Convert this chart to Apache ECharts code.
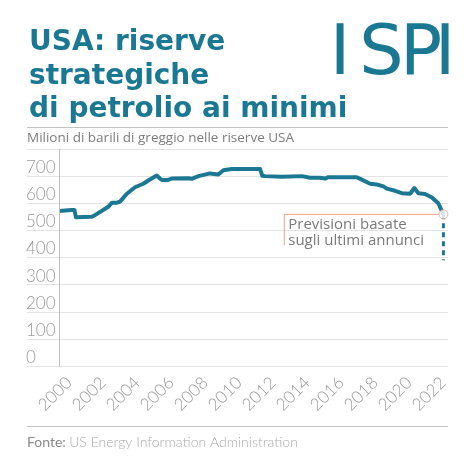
<!DOCTYPE html>
<html>
<head>
<meta charset="utf-8">
<script src="https://cdn.jsdelivr.net/npm/echarts@6/dist/echarts.min.js"></script>
<style>
html,body{margin:0;padding:0;background:#fff;}
#chart{width:474px;height:474px;}
</style>
</head>
<body>
<div id="chart"></div>
<script>
// ---- data ----
const years = [1999.44, 2000.16, 2000.32, 2000.41, 2001.34, 2001.53, 2002.31, 2002.53, 2002.82, 2003.00,
  2003.39, 2003.88, 2004.37, 2004.66, 2005.16, 2005.35, 2005.47, 2005.82, 2006.04, 2007.02,
  2007.22, 2007.61, 2008.29, 2008.39, 2008.78, 2009.08, 2009.57, 2011.24, 2011.37, 2011.53,
  2012.51, 2013.69, 2014.18, 2014.76, 2015.06, 2015.25, 2016.92, 2017.22, 2017.71, 2018.10,
  2018.49, 2018.69, 2019.18, 2019.57, 2020.06, 2020.31, 2020.55, 2020.94, 2021.34, 2021.72, 2022.02];
const reserves = [571, 575, 575, 548, 550, 556, 587, 602, 602, 606,
  634, 659, 672, 684, 702, 691, 686, 686, 691, 692,
  690, 700, 710, 704, 706, 722, 726, 726, 701, 700,
  698, 700, 694, 694, 691, 696, 696, 687, 672, 669,
  662, 654, 646, 637, 635, 656, 637, 634, 621, 600, 559];
const forecastYears = [2022.02, 2022.02];
const forecastValues = [559, 390];
const xTickYears = [2000, 2002, 2004, 2006, 2008, 2010, 2012, 2014, 2016, 2018, 2020, 2022];
const yTicks = [0, 100, 200, 300, 400, 500, 600, 700];
const annotationLines = ['Previsioni basate', 'sugli ultimi annunci'];
const annotationAnchorYear = 2012.66; // where the callout line turns down

const BLUE = '#1b7893';
const SALMON = '#f0a08f';
const GREY_TXT = '#9a9a9a';

const chart = echarts.init(document.getElementById('chart'), null, {renderer: 'canvas'});

const option = {
  backgroundColor: '#ffffff',
  animation: false,
  grid: {left: 27, right: 26, top: 149, bottom: 108, containLabel: false},
  xAxis: {
    type: 'value',
    min: 1997.53,
    max: 2022.29,
    axisLine: {show: false},
    axisTick: {show: false},
    splitLine: {show: false},
    axisLabel: {
      customValues: xTickYears,
      rotate: 45,
      margin: 14,
      color: GREY_TXT,
      fontFamily: 'Lato',
      fontWeight: 300,
      fontSize: 17,
      formatter: v => String(v)
    }
  },
  yAxis: {
    type: 'value',
    min: 0,
    max: 800,
    interval: 100,
    axisLine: {show: false},
    axisTick: {show: false},
    splitLine: {lineStyle: {color: '#e3e3e3', width: 1}},
    axisLabel: {
      inside: true,
      margin: -1,
      verticalAlign: 'bottom',
      color: GREY_TXT,
      fontFamily: 'Lato',
      fontWeight: 300,
      fontSize: 17,
      formatter: v => (yTicks.indexOf(v) >= 0 ? String(v) : '')
    }
  },
  series: [
    {
      type: 'line',
      data: years.map((y, i) => [y, reserves[i]]),
      showSymbol: false,
      symbol: 'none',
      lineStyle: {color: BLUE, width: 4, join: 'round'},
      z: 3,
      markLine: {
        silent: true,
        symbol: 'none',
        label: {show: false},
        lineStyle: {color: '#bdbdbd', width: 1, type: 'solid'},
        data: [{xAxis: years[0]}]
      }
    },
    {
      type: 'line',
      data: forecastYears.map((y, i) => [y, forecastValues[i]]),
      showSymbol: false,
      symbol: 'none',
      lineStyle: {color: BLUE, width: 3, type: [5, 4]},
      z: 2
    },
    {
      type: 'scatter',
      data: [[forecastYears[0], forecastValues[0]]],
      symbol: 'circle',
      symbolSize: 9,
      itemStyle: {color: '#ffffff', borderColor: SALMON, borderWidth: 1},
      z: 5
    }
  ],
  graphic: []
};
chart.setOption(option);

// callout drawn from data coordinates
const pCircle = chart.convertToPixel({gridIndex: 0}, [forecastYears[0], forecastValues[0]]);
const pTurn = chart.convertToPixel({gridIndex: 0}, [annotationAnchorYear, forecastValues[0]]);
const textFont = '"Open Sans"';
const logoFont = '70px "DejaVu Sans"';

const graphics = [
  // title
  {type: 'text', left: 29, top: 26, style: {text: 'USA: riserve\nstrategiche\ndi petrolio ai minimi', fill: BLUE,
    font: 'bold 28px "DejaVu Sans"', lineHeight: 33.5}},
  // logo
  {type: 'text', x: 340, y: 56, style: {text: 'I', fill: BLUE, font: logoFont, align: 'center', verticalAlign: 'middle'}},
  {type: 'text', x: 381.5, y: 56, style: {text: 'S', fill: BLUE, font: logoFont, align: 'center', verticalAlign: 'middle'}},
  {type: 'text', x: 421, y: 56, style: {text: 'P', fill: BLUE, font: logoFont, align: 'center', verticalAlign: 'middle'}},
  {type: 'text', x: 445, y: 56, style: {text: 'I', fill: BLUE, font: logoFont, align: 'center', verticalAlign: 'middle'}},
  // separators
  {type: 'line', shape: {x1: 27, y1: 127.5, x2: 448, y2: 127.5}, style: {stroke: '#c4c4c4', lineWidth: 1}},
  {type: 'line', shape: {x1: 27, y1: 149.5, x2: 448, y2: 149.5}, style: {stroke: '#c4c4c4', lineWidth: 1}},
  {type: 'line', shape: {x1: 27, y1: 426.5, x2: 448, y2: 426.5}, style: {stroke: '#c4c4c4', lineWidth: 1}},
  // subtitle
  {type: 'text', x: 27, y: 138.5, style: {text: 'Milioni di barili di greggio nelle riserve USA', fill: '#7d7d7d',
    font: '13.5px ' + textFont, verticalAlign: 'middle'}},
  // source
  {type: 'text', x: 27, y: 442, style: {text: '{a|Fonte:} {b|US Energy Information Administration}', verticalAlign: 'middle',
    rich: {a: {fill: '#8a8a8a', font: '14px Lato'}, b: {fill: '#ababab', font: '300 14px Lato'}}}},
  // callout line
  {type: 'polyline', z: 10, shape: {points: [[pCircle[0] - 4.5, pCircle[1]], [pTurn[0], pTurn[1]], [pTurn[0], pTurn[1] + 31]]},
    style: {stroke: SALMON, lineWidth: 1, fill: null}},
  {type: 'text', z: 10, x: pTurn[0] + 4, y: pTurn[1] + 2, style: {text: annotationLines.join('\n'), fill: '#7a7a7a',
    font: '15px ' + textFont, lineHeight: 16}}
];
chart.setOption({graphic: graphics});
</script>
</body>
</html>
